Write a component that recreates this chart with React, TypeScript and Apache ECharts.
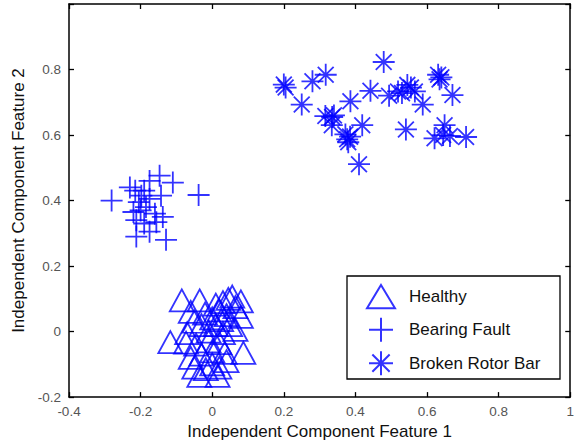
import React, { useEffect, useRef } from "react";
import * as echarts from "echarts";

const seriesNames = ["Healthy", "Bearing Fault", "Broken Rotor Bar"];

const healthyPoints: number[][] = [
  [-0.085, 0.095], [-0.035, 0.095], [0.03, 0.09], [0.045, 0.1], [0.056, 0.107], [0.08, 0.092],
  [0.065, 0.075], [0.01, 0.082], [0.02, 0.065], [-0.06, 0.06], [-0.02, 0.055], [0.04, 0.05],
  [0.08, 0.045], [0.0, 0.04], [0.025, 0.035], [-0.05, 0.03], [-0.03, 0.02], [0.01, 0.02],
  [0.05, 0.02], [0.065, 0.005], [-0.01, 0.0], [0.03, -0.005], [-0.07, -0.005], [-0.117, -0.032],
  [-0.073, -0.034], [-0.045, -0.04], [-0.01, -0.03], [0.02, -0.035], [0.0, -0.06], [-0.03, -0.07],
  [0.035, -0.065], [0.087, -0.065], [-0.06, -0.08], [0.04, -0.09], [0.0, -0.1], [-0.018, -0.115],
  [0.02, -0.11], [-0.05, -0.11], [-0.036, -0.135], [0.015, -0.135],
];

const bearingPoints: number[][] = [
  [-0.281, 0.4], [-0.038, 0.417], [-0.147, 0.476], [-0.11, 0.455], [-0.175, 0.46], [-0.23, 0.44],
  [-0.215, 0.43], [-0.198, 0.415], [-0.175, 0.405], [-0.143, 0.415], [-0.205, 0.395], [-0.19, 0.43],
  [-0.22, 0.365], [-0.16, 0.36], [-0.212, 0.34], [-0.19, 0.33], [-0.156, 0.334], [-0.138, 0.35],
  [-0.212, 0.29], [-0.175, 0.305], [-0.129, 0.28], [-0.185, 0.38], [-0.2, 0.37],
];

const brokenPoints: number[][] = [
  [0.2, 0.754], [0.205, 0.745], [0.28, 0.764], [0.317, 0.784], [0.25, 0.693], [0.316, 0.658],
  [0.335, 0.655], [0.34, 0.66], [0.334, 0.63], [0.386, 0.703], [0.372, 0.602], [0.377, 0.587],
  [0.385, 0.595], [0.38, 0.578], [0.419, 0.63], [0.41, 0.511], [0.442, 0.735], [0.479, 0.823],
  [0.494, 0.72], [0.519, 0.733], [0.545, 0.753], [0.566, 0.733], [0.588, 0.693], [0.541, 0.617],
  [0.631, 0.784], [0.64, 0.776], [0.635, 0.77], [0.671, 0.722], [0.621, 0.59], [0.649, 0.63],
  [0.664, 0.597], [0.709, 0.594], [0.645, 0.6], [0.53, 0.728], [0.555, 0.745],
];

const xTickMin = -0.4;
const xTickMax = 1;
const yTickMin = -0.2;
const yTickMax = 1;
const tickStep = 0.2;

const TRI = "path://M0,-1L1.15,0.9L-1.15,0.9Z";
const PLUS = "path://M0,-1L0,1M-1,0L1,0";
const STAR = "path://M0,-1L0,1M-1,0L1,0M-0.72,-0.72L0.72,0.72M-0.72,0.72L0.72,-0.72";

const FONT = "'Liberation Sans', Arial, sans-serif";
const BLUE = "#0000ff";

export default function App() {
  const ref = useRef<HTMLDivElement>(null);
  useEffect(() => {
    if (!ref.current) return;
    const chart = echarts.init(ref.current, null, { renderer: "svg" });
    const markerStyle = { color: "rgba(0,0,0,0)", borderColor: BLUE, borderWidth: 1.8 };
    const axisCommon = {
      axisLine: { show: true, onZero: false, lineStyle: { color: "#000", width: 1.5 } },
      axisTick: { show: true, inside: true, length: 5, lineStyle: { color: "#000", width: 1.3 } },
      splitLine: { show: false },
    };
    chart.setOption({
      animation: false,
      grid: { left: 69, right: 6, top: 4, bottom: 47 },
      xAxis: [
        {
          type: "value",
          min: xTickMin,
          max: xTickMax,
          interval: tickStep,
          name: "Independent Component Feature 1",
          nameLocation: "middle",
          nameGap: 22,
          nameTextStyle: { fontFamily: FONT, fontSize: 17, color: "#111" },
          axisLabel: { fontFamily: FONT, fontSize: 13.5, color: "#555", margin: 7 },
          ...axisCommon,
        },
        {
          type: "value",
          position: "top",
          min: xTickMin,
          max: xTickMax,
          interval: tickStep,
          axisLabel: { show: false },
          ...axisCommon,
        },
      ],
      yAxis: [
        {
          type: "value",
          min: yTickMin,
          max: yTickMax,
          interval: tickStep,
          name: "Independent Component Feature 2",
          nameLocation: "middle",
          nameGap: 38,
          nameTextStyle: { fontFamily: FONT, fontSize: 17, color: "#111" },
          axisLabel: {
            fontFamily: FONT,
            fontSize: 13.5,
            color: "#555",
            margin: 8,
            formatter: (v: number) => (v > 0.99 ? "" : String(Math.round(v * 10) / 10)),
          },
          ...axisCommon,
        },
        {
          type: "value",
          position: "right",
          min: yTickMin,
          max: yTickMax,
          interval: tickStep,
          axisLabel: { show: false },
          ...axisCommon,
        },
      ],
      legend: {
        orient: "vertical",
        left: 366,
        top: 284,
        padding: 0,
        itemWidth: 28,
        itemHeight: 24,
        itemGap: 7.5,
        selectedMode: false,
        textStyle: { fontFamily: FONT, fontSize: 17, color: "#111", padding: [0, 0, 0, 9] },
        data: [
          { name: seriesNames[0], icon: TRI },
          { name: seriesNames[1], icon: PLUS },
          { name: seriesNames[2], icon: STAR },
        ],
      },
      graphic: [
        {
          type: "rect",
          shape: { x: 347, y: 276, width: 213, height: 103 },
          style: { fill: "none", stroke: "#000", lineWidth: 1.3 },
          z: 1,
        },
      ],
      series: [
        {
          name: seriesNames[0],
          type: "scatter",
          symbol: TRI,
          symbolSize: [24, 22],
          itemStyle: markerStyle,
          data: healthyPoints,
        },
        {
          name: seriesNames[1],
          type: "scatter",
          symbol: PLUS,
          symbolSize: [22, 22],
          itemStyle: markerStyle,
          data: bearingPoints,
        },
        {
          name: seriesNames[2],
          type: "scatter",
          symbol: STAR,
          symbolSize: [22, 22],
          itemStyle: markerStyle,
          data: brokenPoints,
        },
      ],
    });
    return () => chart.dispose();
  }, []);
  return (
    <div
      ref={ref}
      style={{ position: "fixed", left: 0, top: 0, width: 577, height: 445, background: "#fff" }}
    />
  );
}
